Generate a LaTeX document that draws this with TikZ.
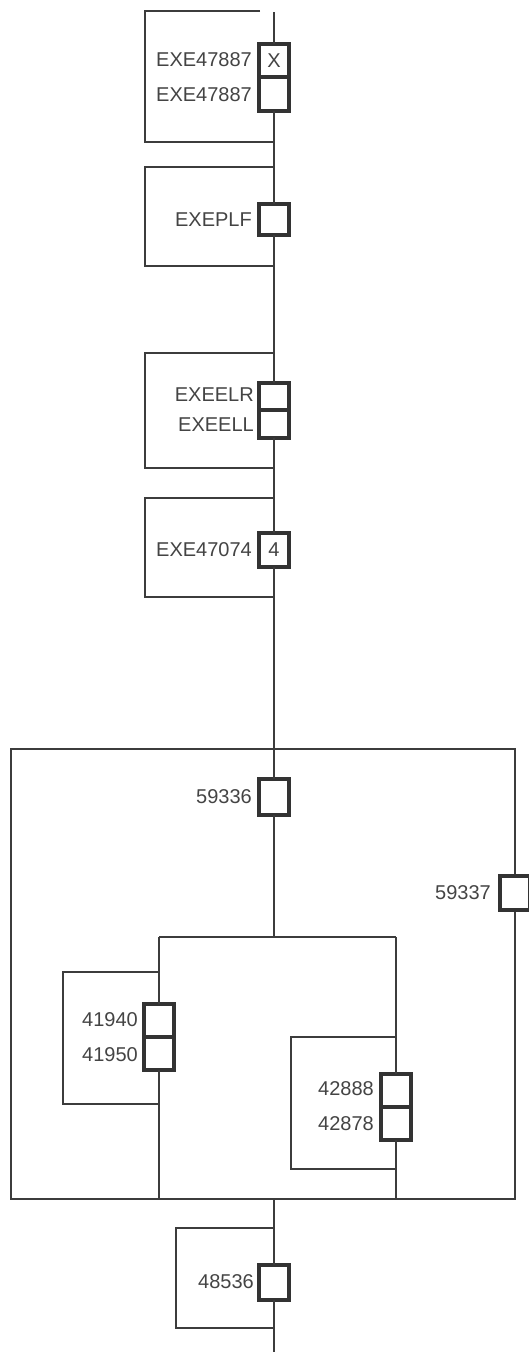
\documentclass[tikz,border=0pt]{standalone}
\usepackage{fontspec}
\setmainfont{Liberation Sans}
\definecolor{linec}{HTML}{3C3C3C}
\definecolor{sqc}{HTML}{333333}
\definecolor{txtc}{HTML}{444444}
\begin{document}
\begin{tikzpicture}[x=1pt,y=-1pt,
  wire/.style={draw=linec,line width=1.3pt},
  frame/.style={draw=linec,line width=1.3pt},
  sq/.style={rectangle,draw=sqc,line width=4pt,fill=white,minimum width=30pt,inner sep=0pt,outer sep=0pt,text=txtc,font=\fontsize{20}{24}\selectfont},
  lbl/.style={anchor=east,inner sep=0pt,text=txtc,font=\fontsize{20}{24}\selectfont}]
\useasboundingbox (0,0) rectangle (529,1352);
% named points
\coordinate (top) at (274,12);
\coordinate (br) at (274,937);
\coordinate (bL) at (159,937);
\coordinate (bR) at (396,937);
\coordinate (bLb) at (159,1199);
\coordinate (bRb) at (396,1199);
\coordinate (bigb) at (274,1199);
\coordinate (bottom) at (274,1352);
% frames
\draw[frame] (260,11) -- (145,11) -- (145,142) -- (274,142);
\draw[frame] (274,167) -- (145,167) -- (145,266) -- (274,266);
\draw[frame] (274,353) -- (145,353) -- (145,468) -- (274,468);
\draw[frame] (274,498) -- (145,498) -- (145,597) -- (274,597);
\draw[frame] (11,749) rectangle (515,1199);
\draw[frame] (159,972) -- (63,972) -- (63,1104) -- (159,1104);
\draw[frame] (396,1037) -- (291,1037) -- (291,1169) -- (396,1169);
\draw[frame] (274,1228) -- (176,1228) -- (176,1328) -- (274,1328);
% squares
\node[sq,minimum height=33pt] (s1a) at (274,60.5) {X};
\node[sq,minimum height=34pt] (s1b) at (274,94) {};
\node[sq,minimum height=31pt] (s2) at (274,219.5) {};
\node[sq,minimum height=27pt] (s3a) at (274,396.5) {};
\node[sq,minimum height=28pt] (s3b) at (274,424) {};
\node[sq,minimum height=34pt] (s4) at (274,550) {4};
\node[sq,minimum height=36pt] (s5) at (274,797) {};
\node[sq,minimum height=34pt] (s6) at (515,893) {};
\node[sq,minimum height=33pt] (s7a) at (159,1020.5) {};
\node[sq,minimum height=33pt] (s7b) at (159,1053.5) {};
\node[sq,minimum height=33pt] (s8a) at (396,1090.5) {};
\node[sq,minimum height=33pt] (s8b) at (396,1123.5) {};
\node[sq,minimum height=35pt] (s9) at (274,1282.5) {};
% labels
\node[lbl] (t1a) at (252,60) {EXE47887};
\node[lbl] (t1b) at (252,95) {EXE47887};
\node[lbl] (t2) at (252,220) {EXEPLF};
\node[lbl] (t3a) at (254,395) {EXEELR};
\node[lbl] (t3b) at (254,425) {EXEELL};
\node[lbl] (t4) at (252,550) {EXE47074};
\node[lbl] (t5) at (252,797) {59336};
\node[lbl] (t6) at (491,893) {59337};
\node[lbl] (t7a) at (138,1020) {41940};
\node[lbl] (t7b) at (138,1055) {41950};
\node[lbl] (t8a) at (374,1089) {42888};
\node[lbl] (t8b) at (374,1124) {42878};
\node[lbl] (t9) at (254,1282) {48536};
% connectors
\draw[wire] (top) -- (s1a.north);
\draw[wire] (s1b.south) -- (s2.north);
\draw[wire] (s2.south) -- (s3a.north);
\draw[wire] (s3b.south) -- (s4.north);
\draw[wire] (s4.south) -- (s5.north);
\draw[wire] (s5.south) -- (br);
\draw[wire] (bL) -- (bR);
\draw[wire] (bL) -- (s7a.north);
\draw[wire] (s7b.south) -- (bLb);
\draw[wire] (bR) -- (s8a.north);
\draw[wire] (s8b.south) -- (bRb);
\draw[wire] (bigb) -- (s9.north);
\draw[wire] (s9.south) -- (bottom);
\end{tikzpicture}
\end{document}
